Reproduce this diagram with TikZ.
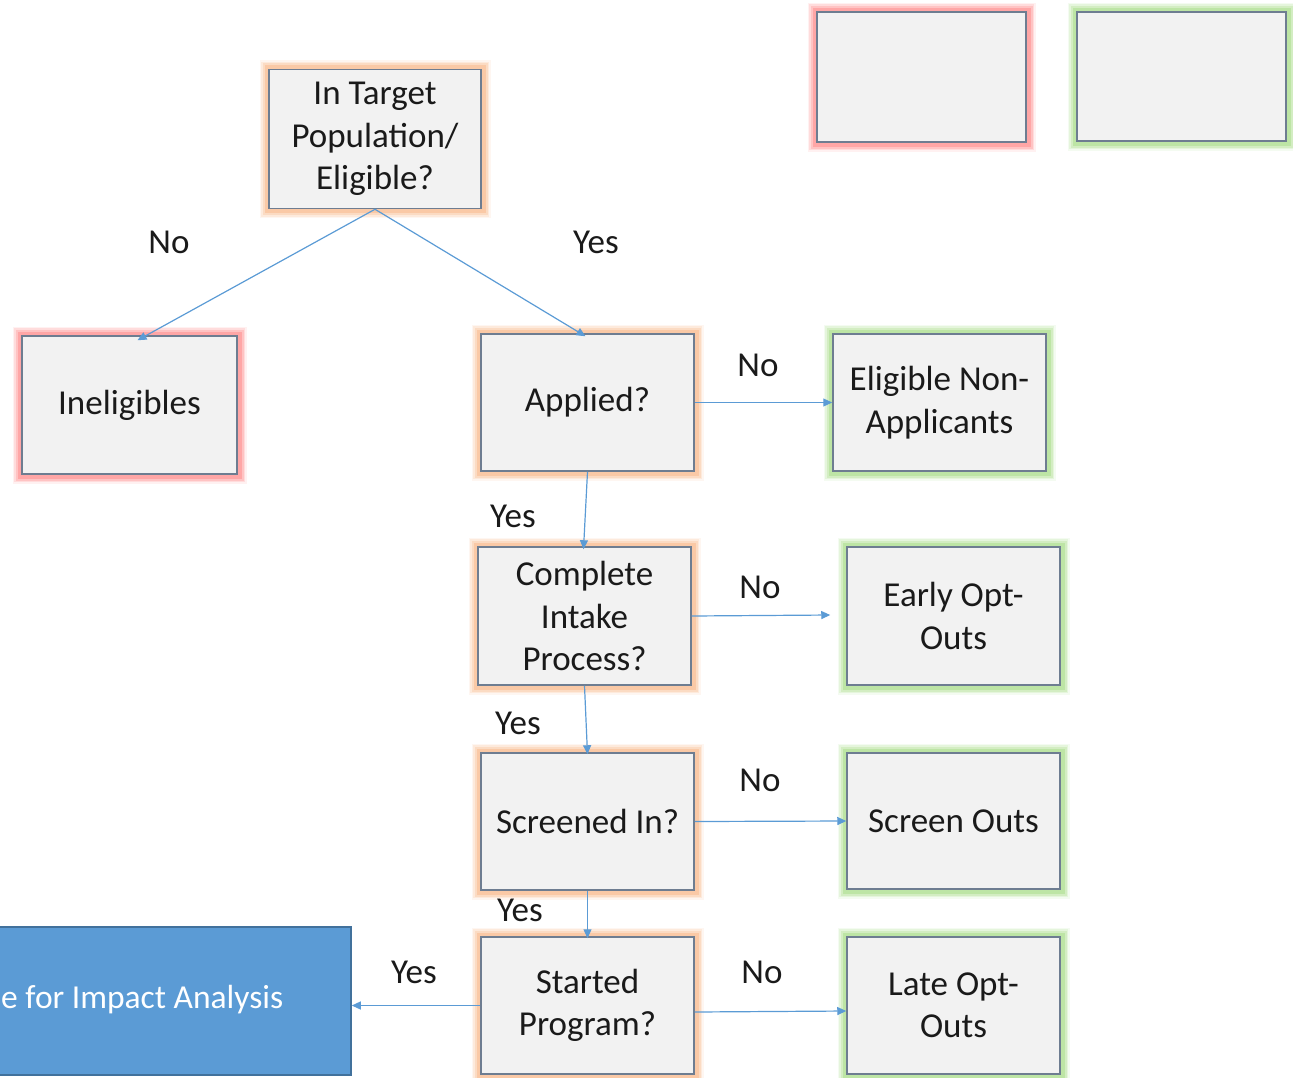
\documentclass[tikz,border=0pt]{standalone}
\usepackage{fontspec}
\setmainfont{Carlito}
\usetikzlibrary{arrows.meta,calc}
\definecolor{boxfill}{HTML}{F2F2F2}
\definecolor{boxline}{HTML}{6E7D91}
\definecolor{conncol}{HTML}{5B9BD5}
\definecolor{glowor}{HTML}{F8B88A}
\definecolor{glowrd}{HTML}{FF8A8A}
\definecolor{glowgr}{HTML}{A8DC88}
\definecolor{bluefill}{HTML}{5B9BD5}
\definecolor{blueline}{HTML}{41719C}
\definecolor{txt}{HTML}{1A1A1A}
\tikzset{
  base/.style={rectangle, fill=boxfill, draw=boxline, line width=1.5pt, align=center,
    text=txt, font=\fontsize{35}{42.5}\selectfont, inner sep=0pt},
  glow/.style={preaction={draw=#1, line width=19pt, draw opacity=0.12, rounded corners=9pt},
    preaction={draw=#1, line width=16pt, draw opacity=0.2, rounded corners=7pt},
    preaction={draw=#1, line width=13pt, draw opacity=0.3, rounded corners=5pt},
    preaction={draw=#1, line width=9pt, draw opacity=0.5, rounded corners=3pt}},
  qbox/.style={base, glow=glowor},
  rbox/.style={base, glow=glowrd},
  gbox/.style={base, glow=glowgr},
  conn/.style={draw=conncol, line width=1.2pt, -{Triangle[width=8pt,length=9pt]}},
  lbl/.style={text=txt, font=\fontsize{35}{40}\selectfont, inner sep=0pt},
}
\begin{document}
\begin{tikzpicture}[x=1pt,y=-1pt]
\useasboundingbox (0,0) rectangle (1293,1077);
\clip (0,0) rectangle (1293,1077);
\node[qbox, minimum width=212pt, minimum height=139pt] (t) at (375,139) {In Target\\Population/\\Eligible?};
\node[rbox, minimum width=215pt, minimum height=138pt] (inel) at (129.5,405) {Ineligibles};
\node[qbox, minimum width=213pt, minimum height=137pt] (app) at (587.5,402.5) {Applied?};
\node[gbox, minimum width=213pt, minimum height=137pt] (ena) at (939.5,402.5) {Eligible Non-\\Applicants};
\node[qbox, minimum width=213pt, minimum height=138pt] (comp) at (584.5,616) {Complete\\Intake\\Process?};
\node[gbox, minimum width=213pt, minimum height=138pt] (early) at (953.5,616) {Early Opt-\\Outs};
\node[qbox, minimum width=213pt, minimum height=137pt] (scr) at (587.5,821.5) {Screened In?};
\node[gbox, minimum width=213pt, minimum height=136pt] (scro) at (953.5,821) {Screen Outs};
\node[qbox, minimum width=213pt, minimum height=137pt] (start) at (587.5,1005.5) {Started\\Program?};
\node[gbox, minimum width=213pt, minimum height=137pt] (late) at (953.5,1005.5) {Late Opt-\\Outs};
\node[rbox, minimum width=209pt, minimum height=130pt] (redempty) at (921.5,77) {};
\node[gbox, minimum width=209pt, minimum height=129pt] (grempty) at (1181.5,76.5) {};
\node[rectangle, fill=bluefill, draw=blueline, line width=1.5pt, minimum width=600pt, minimum height=148pt, inner sep=0pt] (blue) at (51,1001) {};
\node[anchor=west, text=white, font=\fontsize{33.5}{40}\selectfont, inner sep=0pt] (bluetxt) at (1,1000) {e for Impact Analysis};
% connectors
\draw[conn] (t.south) -- ([xshift=8pt,yshift=-5pt]inel.north);
\draw[conn] (t.south) -- ([xshift=-2pt,yshift=-3pt]app.north);
\draw[conn] (app.south) -- ([xshift=-1pt,yshift=-3pt]comp.north);
\draw[conn] (comp.south) -- ([yshift=-2pt]scr.north);
\draw[conn] (scr.south) -- ([yshift=-2pt]start.north);
\draw[conn] (app.east) -- (ena.west);
\draw[conn] (comp.east) -- ([xshift=-16pt,yshift=1pt]early.west);
\draw[conn] (scr.east) -- (scro.west);
\draw[conn] ([yshift=-6.5pt]start.east) -- ([yshift=-5.5pt]late.west);
\draw[conn] (start.west) -- (start.west -| blue.east);
% labels
\node[lbl] (l1) at (169,242) {No};
\node[lbl] (l2) at (596,242) {Yes};
\node[lbl] (l3) at (758,365) {No};
\node[lbl] (l4) at (513,516) {Yes};
\node[lbl] (l5) at (760,587) {No};
\node[lbl] (l6) at (518,723) {Yes};
\node[lbl] (l7) at (760,780) {No};
\node[lbl] (l8) at (520,910) {Yes};
\node[lbl] (l9) at (414,972) {Yes};
\node[lbl] (l10) at (762,972) {No};
\end{tikzpicture}
\end{document}
